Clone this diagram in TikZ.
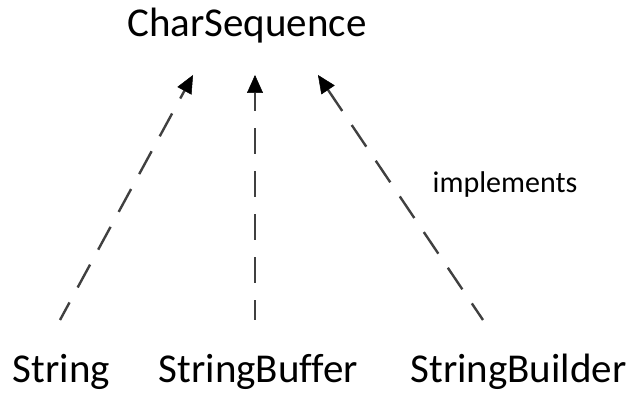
\documentclass[tikz,border=0pt]{standalone}
\usepackage{fontspec}
\setmainfont[Ligatures=NoCommon]{Carlito}
\usetikzlibrary{arrows.meta}
\definecolor{linegray}{HTML}{404040}
\begin{document}
\begin{tikzpicture}[x=1pt,y=1pt,
  lbl/.style={inner sep=0pt, anchor=base, font=\fontsize{41}{49}\selectfont},
  small/.style={inner sep=0pt, anchor=base, font=\fontsize{30}{36}\selectfont},
  impl/.style={draw=linegray, line width=2.4pt, dash pattern=on 26pt off 17pt, dash phase=6pt,
    -{Triangle[length=18pt,width=16pt,color=black,fill=black,line width=0.5pt]}}]
\useasboundingbox (0,0) rectangle (631,393);
\node[lbl] (cs) at (247,356) {CharSequence};
\node[lbl] (str) at (61.5,10) {String};
\node[lbl] (sbf) at (258.5,10) {StringBuffer};
\node[lbl] (sbd) at (518.5,10) {StringBuilder};
\node[small] (imp) at (505,200) {implements};
\coordinate (a1) at (60,73);
\coordinate (b1) at (193,318);
\coordinate (a2) at (255,73);
\coordinate (b2) at (255,318);
\coordinate (a3) at (483,73);
\coordinate (b3) at (318,318);
\draw[impl] (a1) -- (b1);
\draw[impl] (a2) -- (b2);
\draw[impl] (a3) -- (b3);
\end{tikzpicture}
\end{document}
